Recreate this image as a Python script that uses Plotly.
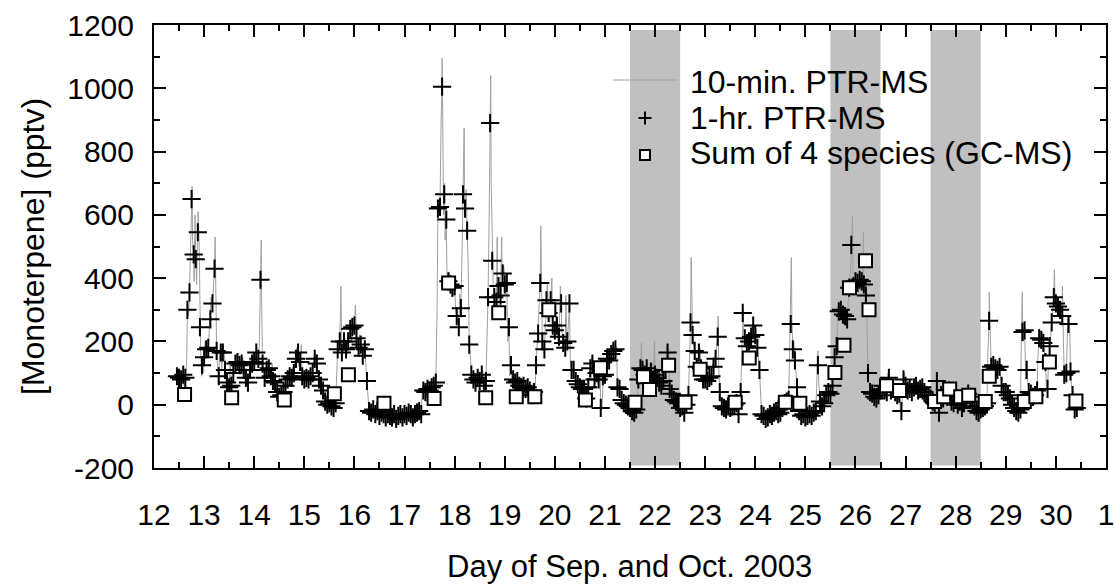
import plotly.graph_objects as go

# ---------------- data ----------------
# 1-hr PTR-MS monoterpene (pptv), hourly readings starting 12 Sep 11:00
ptr1h_start_day = 12 + 11 / 24
ptr1h_val = [
    # day 12 (11h-23h)
    90, 85, 80, 95, 85, 300, 355, 650, 475, 460, 545, 245, 125,
    # day 13
    150, 175, 180, 270, 320, 430, 170, 90, 165, 165, 110, 70, 55, 60, 100, 130, 135, 125, 130, 110, 85, 70, 110, 130,
    # day 14
    135, 165, 145, 395, 130, 85, 110, 115, 90, 75, 70, 40, 25, 30, 40, 60, 80, 90, 85, 100, 145, 165, 135, 90,
    # day 15
    80, 85, 80, 90, 100, 145, 130, 80, 60, 45, 10, 0, 5, -5, -10, 5, 175, 200, 165, 200, 175, 200, 240, 245,
    # day 16
    250, 210, 180, 190, 155, 175, 75, -20, -25, -15, -30, -20, -35, -25, -30, -40, -30, -35, -40, -30, -45, -35, -30, -40,
    # day 17
    -30, -35, -25, -30, -40, -30, -25, -20, -30, 45, 40, 50, 45, 55, 60, 70, 620, 625, 1005, 665, 585, 390, 380, 370,
    # day 18
    375, 280, 245, 305, 665, 620, 550, 190, 95, 80, 70, 85, 75, 95, 60, 75, 340, 890, 455, 340, 325, 375, 345, 415,
    # day 19
    380, 385, 245, 125, 80, 70, 75, 60, 55, 60, 50, 55, 45, 30, 40, 125, 225, 385, 200, 175, 330, 290, 330, 250,
    # day 20
    235, 250, 215, 320, 195, 180, 200, 320, 110, 110, 75, 65, 55, 50, 50, 20, 55, 115, 130, 80, 100, 80, -10, 90,
    # day 21
    95, 145, 140, 160, 170, 175, 55, 50, 15, 5, 0, -5, -10, -20, -25, -15, 80, 115, 110, 95, 115, 90, 105, 75,
    # day 22
    95, 85, 70, 60, 75, 110, 165, 50, 35, 15, 10, 5, -10, -5, -25, 0, 30, 260, 220, 170, 120, 165, 115, 80,
    # day 23
    80, 75, 85, 90, 120, 145, 215, 40, -5, -10, -15, -5, -10, -5, 0, 5, -30, 40, 290, 210, 185, 200, 215, 250,
    # day 24
    220, 180, 110, -30, -35, -45, -40, -30, -35, -25, -20, -30, -25, -10, 5, 10, 15, 255, 175, 140, 55, -20, -35, -30,
    # day 25
    -40, -35, -30, -35, -25, -20, 125, 10, -5, 5, 30, 40, 35, 60, 150, 185, 295, 300, 285, 280, 270, 370, 505, 375,
    # day 26
    390, 385, 395, 390, 380, 345, 100, 40, 35, 25, 20, 30, 45, 60, 50, 40, 85, 45, 50, 40, 30, 35, -20, 80,
    # day 27
    60, 45, 50, 40, 55, 60, 45, 50, 55, 40, 30, 25, 20, 10, 5, 75, -25, 30, 20, 35, 25, 45, 10, 5,
    # day 28
    15, 0, 10, -10, 5, 20, 35, 25, 10, -5, -20, -25, -15, -10, -5, 5, 265, 120, 125, 115, 110, 120, 60, 40,
    # day 29
    40, 30, 20, 0, -10, -20, -25, -15, 230, 235, 110, 40, 35, 25, 30, 45, 210, 205, 195, 135, 50, 185, 260, 340,
    # day 30 (0h-10h)
    320, 310, 300, 280, 95, 100, 255, 105, 30, -15, -10,
]
ptr1h_day = [ptr1h_start_day + i / 24 for i in range(len(ptr1h_val))]

# 10-min PTR-MS readings between the hourly values (peaks and dips)
ptr10_extra_day = [
    12.46, 12.52, 12.56, 12.60, 12.65, 12.69, 12.72, 12.76, 12.77, 12.80, 12.82, 12.85, 12.88, 12.90, 12.93, 12.95, 12.99,
    13.02, 13.06, 13.10, 13.14, 13.19, 13.22, 13.24, 13.27, 13.31, 13.35, 13.40, 13.44, 13.52, 13.56, 13.60, 13.65, 13.70,
    13.77, 13.81, 13.86, 13.90, 13.98, 14.06, 14.10, 14.14, 14.15, 14.19, 14.23, 14.30, 14.36, 14.40, 14.48, 14.52, 14.56,
    14.62, 14.69, 14.73, 14.77, 14.81, 14.85, 14.89, 14.94, 14.98, 15.02, 15.06, 15.10, 15.15, 15.19, 15.23, 15.27, 15.31,
    15.36, 15.40, 15.48, 15.52, 15.56, 15.60, 15.64, 15.69, 15.73, 15.74, 15.77, 15.81, 15.85, 15.90, 15.94, 15.98, 16.02,
    16.06, 16.10, 16.14, 16.19, 16.23, 16.27, 16.31, 16.35, 16.45, 16.55, 16.62, 16.75, 16.85, 16.95, 17.05, 17.15, 17.22,
    17.28, 17.35, 17.40, 17.52, 17.60, 17.65, 17.69, 17.73, 17.75, 17.76, 17.78, 17.80, 17.81, 17.85, 17.89, 17.94, 17.98,
    18.02, 18.06, 18.10, 18.15, 18.19, 18.20, 18.23, 18.27, 18.31, 18.35, 18.40, 18.44, 18.48, 18.52, 18.56, 18.60, 18.64,
    18.69, 18.72, 18.73, 18.77, 18.81, 18.85, 18.86, 18.90, 18.94, 18.95, 18.98, 19.02, 19.06, 19.10, 19.15, 19.19, 19.23,
    19.27, 19.31, 19.35, 19.40, 19.44, 19.48, 19.52, 19.56, 19.60, 19.64, 19.69, 19.72, 19.74, 19.77, 19.81, 19.85, 19.90,
    19.94, 19.98, 20.03, 20.06, 20.11, 20.14, 20.20, 20.22, 20.24, 20.28, 20.31, 20.36, 20.40, 20.44, 20.48, 20.52, 20.56,
    20.60, 20.64, 20.69, 20.73, 20.77, 20.81, 20.85, 20.90, 20.94, 20.98, 21.02, 21.06, 21.10, 21.15, 21.19, 21.23, 21.27,
    21.31, 21.35, 21.40, 21.48, 21.52, 21.56, 21.60, 21.65, 21.69, 21.73, 21.74, 21.77, 21.81, 21.85, 21.90, 21.95, 21.99,
    22.00, 22.02, 22.06, 22.10, 22.15, 22.19, 22.23, 22.27, 22.31, 22.36, 22.44, 22.52, 22.56, 22.60, 22.65, 22.69, 22.72,
    22.74, 22.77, 22.81, 22.85, 22.90, 22.94, 22.98, 23.02, 23.06, 23.10, 23.15, 23.19, 23.23, 23.26, 23.27, 23.31, 23.40,
    23.48, 23.56, 23.60, 23.65, 23.69, 23.73, 23.76, 23.77, 23.81, 23.85, 23.90, 23.94, 23.98, 24.02, 24.06, 24.10, 24.14,
    24.20, 24.30, 24.40, 24.52, 24.60, 24.65, 24.69, 24.72, 24.73, 24.77, 24.81, 24.85, 24.90, 25.00, 25.10, 25.20, 25.23,
    25.25, 25.27, 25.31, 25.40, 25.48, 25.52, 25.56, 25.60, 25.64, 25.69, 25.73, 25.77, 25.81, 25.85, 25.90, 25.94, 25.95,
    25.98, 26.02, 26.06, 26.10, 26.14, 26.16, 26.18, 26.20, 26.23, 26.27, 26.31, 26.40, 26.50, 26.56, 26.60, 26.65, 26.69,
    26.73, 26.77, 26.85, 26.90, 26.94, 26.98, 27.02, 27.06, 27.10, 27.15, 27.19, 27.23, 27.27, 27.31, 27.35, 27.45, 27.52,
    27.56, 27.60, 27.63, 27.65, 27.69, 27.73, 27.77, 27.81, 27.85, 27.90, 27.94, 27.98, 28.04, 28.10, 28.15, 28.20, 28.23,
    28.27, 28.31, 28.40, 28.48, 28.54, 28.60, 28.64, 28.67, 28.69, 28.73, 28.77, 28.81, 28.85, 28.90, 28.94, 28.98, 29.04,
    29.10, 29.15, 29.23, 29.27, 29.31, 29.33, 29.35, 29.40, 29.44, 29.50, 29.56, 29.60, 29.64, 29.67, 29.69, 29.73, 29.77,
    29.81, 29.85, 29.90, 29.94, 29.97, 29.99, 30.02, 30.06, 30.10, 30.13, 30.15, 30.19, 30.23, 30.27, 30.29, 30.31, 30.35,
    30.40,
]
ptr10_extra_val = [
    110, 70, 100, 60, 120, 280, 420, 690, 520, 390, 600, 380, 610, 520, 180, 90, 100,
    200, 150, 230, 340, 390, 530, 300, 120, 160, 110, 170, 60, 130, 40, 120, 160, 100,
    150, 100, 60, 90, 160, 150, 180, 520, 300, 100, 130, 90, 130, 60, 20, 45, 15,
    70, 110, 70, 120, 130, 180, 120, 190, 100, 110, 70, 110, 80, 150, 160, 110, 90,
    60, 20, -5, 15, -15, 10, 60, 200, 375, 230, 160, 210, 160, 220, 200, 230, 315,
    200, 220, 170, 180, 120, 20, -30, -10, -40, -15, -35, -20, -50, -30, -15, -40, -20,
    -45, 30, 60, 35, 75, 300, 640, 900, 1095, 800, 600, 700, 520, 380, 420, 340, 400,
    300, 260, 350, 500, 875, 600, 680, 450, 150, 80, 100, 60, 110, 60, 110, 50, 150,
    600, 1040, 700, 380, 300, 530, 300, 360, 530, 380, 440, 350, 200, 90, 60, 90, 60,
    80, 40, 70, 45, 60, 40, 30, 45, 20, 170, 300, 565, 300, 180, 250, 380, 260,
    400, 230, 280, 200, 375, 230, 170, 345, 190, 280, 130, 90, 100, 60, 70, 40, 60,
    15, 40, 100, 150, 100, 120, 70, 120, -15, 130, 110, 160, 130, 180, 160, 185, 60,
    30, 10, 5, -15, -5, -30, -10, 40, 110, 196, 100, 130, 90, 130, 80, 130, 201,
    100, 80, 100, 55, 90, 130, 190, 175, 40, 20, 0, 5, -30, -10, 20, 150, 465,
    250, 190, 150, 130, 180, 100, 70, 95, 70, 100, 130, 150, 200, 280, 120, 10, -20,
    0, -15, 10, -35, 20, 150, 300, 230, 190, 220, 190, 240, 200, 240, 150, 60, -25,
    -45, -25, -35, -15, 20, 40, 200, 465, 280, 200, 120, 30, -30, -45, -25, -35, 60,
    170, 60, 0, 20, 45, 30, 100, 170, 250, 320, 270, 300, 260, 330, 420, 595, 420,
    360, 420, 380, 420, 370, 547, 400, 370, 250, 60, 30, 15, 55, 80, 40, 100, 60,
    70, 35, 45, -25, 30, 100, 50, 70, 40, 70, 50, 65, 40, 70, 40, 30, 15,
    0, 40, 95, 30, -30, 40, 15, 45, 20, 55, 0, 20, -5, 15, -15, 25, 45,
    20, 15, -25, -20, -5, 20, 150, 355, 200, 110, 140, 100, 130, 80, 50, 30, 35,
    10, -15, -30, -10, 200, 355, 200, 80, 50, 25, 35, 20, 150, 240, 180, 230, 170,
    60, 120, 220, 300, 427, 300, 340, 280, 320, 375, 200, 80, 230, 280, 130, 60, 0,
    -20,
]

# Sum of 4 species (GC-MS)
gc_day = [12.61, 13.55, 14.60, 15.60, 15.88, 16.59, 17.59, 17.88, 18.62, 18.88, 19.23, 19.60, 19.88, 20.61,
          20.91, 21.60, 21.77, 21.89, 22.27, 22.60, 22.90, 23.60, 23.88, 24.60, 24.89, 25.59, 25.77, 25.88,
          26.20, 26.27, 26.62, 26.88, 27.58, 27.76, 27.88, 28.10, 28.26, 28.59, 28.67, 29.37, 29.60, 29.87, 30.40]
gc_val = [32, 22, 15, 35, 95, 5, 20, 385, 22, 291, 25, 25, 300, 15,
          117, 8, 88, 48, 125, 8, 112, 8, 148, 8, 5, 102, 188, 370,
          455, 300, 60, 45, 10, 25, 50, 25, 30, 10, 90, 10, 25, 135, 12]

# shaded periods
band_start = [21.5, 25.5, 27.5]
band_end = [22.5, 26.5, 28.5]

# axis ticks
x_tick_day = list(range(12, 32))
x_tick_text = [str(d) for d in range(12, 31)] + ["1"]
y_tick_val = [-200, 0, 200, 400, 600, 800, 1000, 1200]
y_tick_text = ["-200", "0", "200", "400", "600", "800", "1000", "1200"]

legend_names = ["10-min. PTR-MS", "1-hr. PTR-MS", "Sum of 4 species (GC-MS)"]
x_title = "Day of Sep. and Oct. 2003"
y_title = "[Monoterpene] (pptv)"

# 10-min line = hourly readings merged with the in-between 10-min readings
pairs = sorted(list(zip(ptr1h_day, ptr1h_val)) + list(zip(ptr10_extra_day, ptr10_extra_val)))
ptr10_day = [p[0] for p in pairs]
ptr10_val = [p[1] for p in pairs]

# ---------------- figure ----------------
FONT = "Liberation Sans, Arial, Helvetica, sans-serif"
L, R, T, B = 154, 8, 25, 116
W = 1114 - L - R
H = 584 - T - B


def px_x(px):
    return (px - L) / W


def px_y(py):
    return (T + H - py) / H


fig = go.Figure()
fig.add_trace(go.Scatter(x=ptr10_day, y=ptr10_val, mode="lines", name=legend_names[0],
                         line=dict(color="#a0a0a0", width=1), showlegend=False))
fig.add_trace(go.Scatter(x=ptr1h_day, y=ptr1h_val, mode="markers", name=legend_names[1],
                         marker=dict(symbol="cross-thin", size=13, line=dict(color="black", width=2)),
                         showlegend=False))
fig.add_trace(go.Scatter(x=gc_day, y=gc_val, mode="markers", name=legend_names[2],
                         marker=dict(symbol="square", size=13, color="white",
                                     line=dict(color="black", width=2)),
                         showlegend=False))

shapes = []
for s, e in zip(band_start, band_end):
    shapes.append(dict(type="rect", xref="x", yref="y", x0=s, x1=e, y0=-192, y1=1184,
                       fillcolor="#c0c0c0", line=dict(width=0), layer="below"))

# hand-built legend (symbols)
shapes.append(dict(type="line", xref="paper", yref="paper", x0=px_x(613), x1=px_x(677),
                   y0=px_y(80), y1=px_y(80), line=dict(color="#a0a0a0", width=1)))
shapes.append(dict(type="line", xref="paper", yref="paper", x0=px_x(638.5), x1=px_x(651.5),
                   y0=px_y(118), y1=px_y(118), line=dict(color="black", width=2)))
shapes.append(dict(type="line", xref="paper", yref="paper", x0=px_x(645), x1=px_x(645),
                   y0=px_y(111.5), y1=px_y(124.5), line=dict(color="black", width=2)))
shapes.append(dict(type="rect", xref="paper", yref="paper", x0=px_x(640), x1=px_x(650),
                   y0=px_y(160), y1=px_y(150), fillcolor="white", line=dict(color="black", width=2)))

annotations = []
for name, yc in zip(legend_names, [81.7, 118, 153.3]):
    annotations.append(dict(text=name, xref="paper", yref="paper", x=px_x(688), y=px_y(yc),
                            xanchor="left", yanchor="middle", showarrow=False,
                            font=dict(family=FONT, size=32, color="black")))
# axis titles
annotations.append(dict(text=y_title, xref="paper", yref="paper", x=px_x(33), y=px_y(247),
                        xanchor="center", yanchor="middle", textangle=-90, showarrow=False,
                        font=dict(family=FONT, size=32, color="black")))
annotations.append(dict(text=x_title, xref="paper", yref="paper", x=px_x(629.7), y=px_y(566),
                        xanchor="center", yanchor="middle", showarrow=False,
                        font=dict(family=FONT, size=31, color="black")))

fig.update_layout(
    width=1114, height=584,
    margin=dict(l=L, r=R, t=T, b=B, pad=0, autoexpand=False),
    paper_bgcolor="white", plot_bgcolor="white",
    font=dict(family=FONT, size=30, color="black"),
    showlegend=False,
    shapes=shapes,
    annotations=annotations,
)

axis_common = dict(ticks="inside", ticklen=12, tickwidth=2, tickcolor="black",
                   showline=True, linewidth=2, linecolor="black", mirror="ticks",
                   showgrid=False, zeroline=False, automargin=False, ticklabeloverflow="allow",
                   tickfont=dict(family=FONT, size=30, color="black"))

fig.update_xaxes(range=[12, 31], tickmode="array", tickvals=x_tick_day, ticktext=x_tick_text,
                 minor=dict(ticks="inside", ticklen=6, tickwidth=2, tickcolor="black", dtick=0.5, tick0=12,
                            showgrid=False),
                 ticklabelstandoff=19,
                 **axis_common)
fig.update_yaxes(range=[-200, 1200], tickmode="array", tickvals=y_tick_val, ticktext=y_tick_text,
                 minor=dict(ticks="inside", ticklen=6, tickwidth=2, tickcolor="black", dtick=100, tick0=0,
                            showgrid=False),
                 ticklabelstandoff=12,
                 **axis_common)

fig.write_html("out.html")
